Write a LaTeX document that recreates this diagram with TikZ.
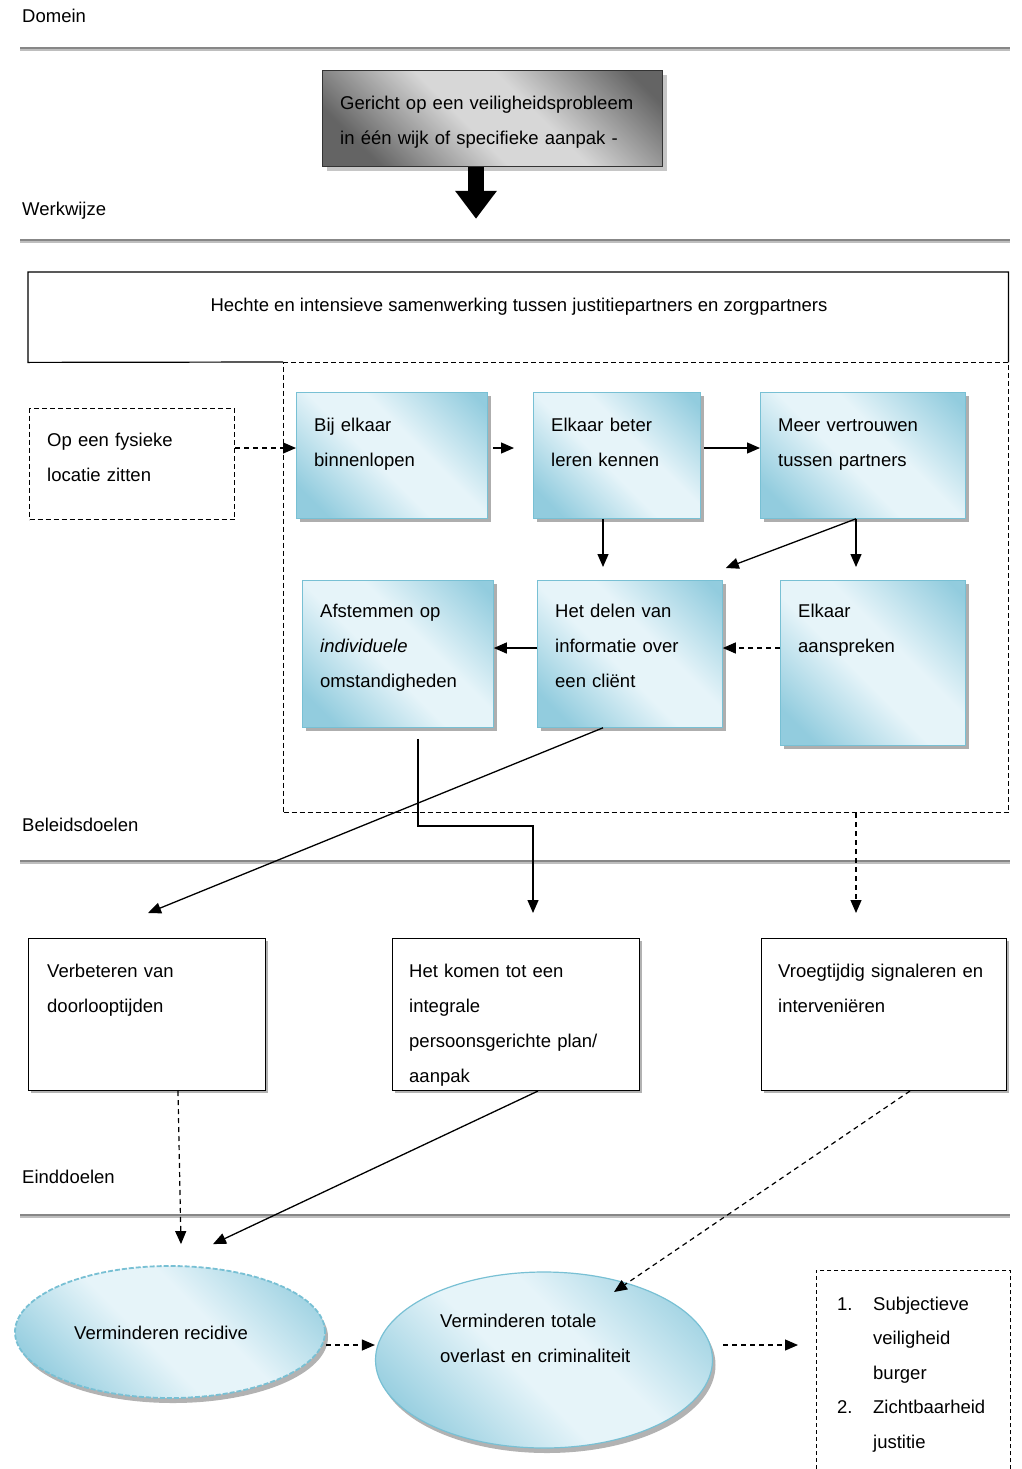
\documentclass[tikz,border=0pt]{standalone}
\usepackage{fontspec}
\setmainfont{Liberation Sans}
\usetikzlibrary{arrows.meta,shadows,calc,shapes.geometric}
\definecolor{bD}{RGB}{146,204,222}
\definecolor{bL}{RGB}{230,244,249}
\definecolor{bE}{RGB}{120,192,212}
\definecolor{gD}{RGB}{100,100,100}
\definecolor{gL}{RGB}{215,215,215}
\definecolor{ruleA}{RGB}{135,135,135}
\definecolor{ruleB}{RGB}{190,190,190}
\pgfdeclarehorizontalshading{blueband}{100bp}{color(0bp)=(bD); color(22bp)=(bD); color(45bp)=(bL); color(58bp)=(bL); color(82bp)=(bD); color(100bp)=(bD)}
\pgfdeclarehorizontalshading{grayband}{100bp}{color(0bp)=(gD); color(24bp)=(gD); color(45bp)=(gL); color(58bp)=(gL); color(80bp)=(gD); color(100bp)=(gD)}
\tikzset{
  txt/.style={font=\fontsize{18.5}{35}\selectfont, inner sep=0pt, anchor=base west, align=left, text width=420pt},
  lbl/.style={font=\fontsize{18.5}{35}\selectfont, inner sep=0pt, anchor=base west},
  bbox/.style={draw=bE, line width=0.8pt, shading=blueband, shading angle=45, anchor=north west, inner sep=0pt,
    drop shadow={shadow xshift=4pt, shadow yshift=-4pt, fill=gray!70, opacity=0.9}},
  wbox/.style={draw=black, line width=1pt, fill=white, anchor=north west, inner sep=0pt,
    drop shadow={shadow xshift=2pt, shadow yshift=-2pt, fill=gray!60, opacity=1}},
  dbox/.style={draw=black, line width=1.1pt, dash pattern=on 5pt off 3pt, anchor=north west, inner sep=0pt},
  sar/.style={draw=black, line width=1.3pt, -{Triangle[length=13pt,width=11pt]}},
  dar/.style={draw=black, line width=1.2pt, dash pattern=on 5pt off 4pt, -{Triangle[length=13pt,width=11pt]}},
}
\begin{document}
\begin{tikzpicture}[x=1pt,y=-1pt]
\useasboundingbox[fill=white] (0,0) rectangle (1022,1469);

% section rules
\foreach \yy in {49,241,862,1216} {
  \draw[ruleA, line width=1.6pt] (20,\yy-0.8) -- (1010,\yy-0.8);
  \draw[ruleB, line width=1.6pt] (20,\yy+0.8) -- (1010,\yy+0.8);
}

% section labels
\node[lbl] (ldom) at (22,23) {Domein};
\node[lbl] (lwerk) at (22,215) {Werkwijze};
\node[lbl] (lbel) at (22,831) {Beleidsdoelen};
\node[lbl] (leind) at (22,1183) {Einddoelen};

% top gray box
\node[draw=gray!40!black, line width=0.8pt, shading=grayband, shading angle=45, anchor=north west, inner sep=0pt,
      minimum width=340pt, minimum height=96pt,
      drop shadow={shadow xshift=5pt, shadow yshift=-5pt, fill=gray!45, opacity=1}] (G) at (322,70) {};
\node[txt] (Gt) at (340,110) {Gericht op een veiligheidsprobleem\\in één wijk of specifieke aanpak -};
\coordinate (a0) at ($(G.south west)+(154,0)$);
\coordinate (a1) at ($(G.south west)+(154,52)$);
\draw[line width=16pt, -{Triangle[length=28pt,width=40pt]}] (a0) -- (a1);

% big box
\node[anchor=north west, inner sep=0pt, minimum width=980pt, minimum height=90pt] (H) at (28,272) {};
\node[dbox, minimum width=725pt, minimum height=450pt] (D) at (283,362) {};
\draw[black, line width=1.2pt] (D.north west) -- (H.south west) -- (H.north west) -- (H.north east) -- (H.south east);
\node[lbl, anchor=base] (Ht) at (519,311) {Hechte en intensieve samenwerking tussen justitiepartners en zorgpartners};

% fysieke locatie
\node[dbox, minimum width=205pt, minimum height=111pt] (F) at (29,408) {};
\node[txt] (Ft) at (47,446) {Op een fysieke\\locatie zitten};

% blue boxes
\node[bbox, minimum width=191pt, minimum height=126pt] (B1) at (296,392) {};
\node[bbox, minimum width=167pt, minimum height=126pt] (B2) at (533,392) {};
\node[bbox, minimum width=205pt, minimum height=126pt] (B3) at (760,392) {};
\node[bbox, minimum width=191pt, minimum height=147pt] (B4) at (302,580) {};
\node[bbox, minimum width=185pt, minimum height=147pt] (B5) at (537,580) {};
\node[bbox, minimum width=185pt, minimum height=165pt] (B6) at (780,580) {};
\node[txt] (B1t) at (314,431) {Bij elkaar\\binnenlopen};
\node[txt] (B2t) at (551,431) {Elkaar beter\\leren kennen};
\node[txt] (B3t) at (778,431) {Meer vertrouwen\\tussen partners};
\node[txt] (B4t) at (320,617) {Afstemmen op\\\textit{individuele}\\omstandigheden};
\node[txt] (B5t) at (555,617) {Het delen van\\informatie over\\een cliënt};
\node[txt] (B6t) at (798,617) {Elkaar\\aanspreken};

% white goal boxes
\node[wbox, minimum width=237pt, minimum height=152pt] (V1) at (28,938) {};
\node[wbox, minimum width=247pt, minimum height=152pt] (V2) at (392,938) {};
\node[wbox, minimum width=245pt, minimum height=152pt] (V3) at (761,938) {};
\node[txt] (V1t) at (47,977) {Verbeteren van\\doorlooptijden};
\node[txt] (V2t) at (409,977) {Het komen tot een\\integrale\\persoonsgerichte plan/\\aanpak};
\node[txt] (V3t) at (778,977) {Vroegtijdig signaleren en\\interveniëren};

% ellipses
\node[ellipse, draw=bE, line width=1.8pt, dash pattern=on 5pt off 2pt, shading=blueband, shading angle=45,
      minimum width=310pt, minimum height=132pt, inner sep=0pt,
      drop shadow={shadow xshift=3pt, shadow yshift=-5pt, fill=gray!60, opacity=1}] (E1) at (170,1332) {};
\node[lbl] (E1t) at (74,1339) {Verminderen recidive};
\node[ellipse, draw=bE, line width=1.2pt, shading=blueband, shading angle=45,
      minimum width=337pt, minimum height=176pt, inner sep=0pt,
      drop shadow={shadow xshift=3pt, shadow yshift=-5pt, fill=gray!60, opacity=1}] (E2) at (544,1360) {};
\node[txt] (E2t) at (440,1327) {Verminderen totale\\overlast en criminaliteit};

% right dashed box
\node[dbox, line width=0.9pt, dash pattern=on 4pt off 3pt, minimum width=194pt, minimum height=215pt] (R) at (816,1270) {};
\node[txt, font=\fontsize{18.5}{34.5}\selectfont] (Rt) at (837,1310)
  {\makebox[36pt][l]{1.}Subjectieve\\\hspace*{36pt}veiligheid\\\hspace*{36pt}burger\\\makebox[36pt][l]{2.}Zichtbaarheid\\\hspace*{36pt}justitie};

% connectors
\draw[dar] ($(F.north east)+(0,40)$) -- ($(B1.north west)+(0,56)$);
\draw[sar] ($(B1.north east)+(5,56)$) -- ($(B2.north west)+(-19,56)$);
\draw[sar] ($(B2.north east)+(3,56)$) -- ($(B3.north west)+(0,56)$);
\draw[sar] ($(B2.south west)+(70,0)$) -- ($(B5.north west)+(66,-13)$);
\draw[sar] ($(B3.south west)+(96,0)$) -- ($(B6.north west)+(76,-13)$);
\draw[sar] ($(B3.south west)+(96,0)$) -- ($(B5.north east)+(3,-12)$);
\draw[sar] ($(B5.north west)+(0,68)$) -- ($(B4.north east)+(0,68)$);
\draw[dar] ($(B6.north west)+(0,68)$) -- ($(B5.north east)+(0,68)$);
\draw[sar] ($(B5.south west)+(66,0)$) -- ($(V1.north west)+(120,-25)$);
\draw[sar] ($(B4.south west)+(116,11)$) |- ($(V2.north west)+(141,-112)$) -- ($(V2.north west)+(141,-25)$);
\draw[dar] ($(D.south west)+(573,0)$) -- ($(V3.north west)+(95,-25)$);
\draw[dar] ($(V1.south west)+(150,0)$) -- ($(E1.north)+(11,-21)$);
\draw[sar] ($(V2.south west)+(146,0)$) -- ($(E1.north)+(43,-21)$);
\draw[dar] ($(V3.south west)+(149,0)$) -- ($(E2.center)+(70,-68)$);
\draw[dar] ($(E1.east)+(0,13)$) -- ($(E2.west)+(0,-15)$);
\draw[dar] ($(E2.east)+(10,-15)$) -- ($(R.north west)+(-18,75)$);
\end{tikzpicture}
\end{document}
